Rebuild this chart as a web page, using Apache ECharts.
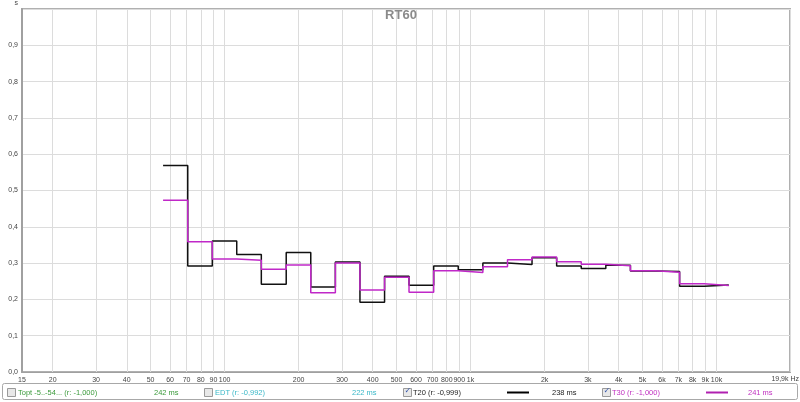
<!DOCTYPE html>
<html>
<head>
<meta charset="utf-8">
<script src="https://cdn.jsdelivr.net/npm/echarts@6/dist/echarts.min.js"></script>
<style>
html,body{margin:0;padding:0;background:#fff;}
#chart{width:800px;height:402px;}
</style>
</head>
<body>
<div id="chart"></div>
<script>
// 1/3-octave band edges (Hz): lower edges of each band + upper edge of the last band
var bandEdges = [56.2, 70.8, 89.1, 112, 141, 178, 224, 282, 355, 447, 562, 708, 891, 1122, 1413, 1778, 2239, 2818, 3548, 4467, 5623, 7079, 8913, 11220];
// RT60 per band (s)
var t20Values = [0.569, 0.292, 0.361, 0.324, 0.242, 0.329, 0.234, 0.303, 0.192, 0.264, 0.239, 0.292, 0.282, 0.300, 0.296, 0.315, 0.292, 0.285, 0.294, 0.278, 0.277, 0.236, 0.240];
var t30Values = [0.473, 0.359, 0.311, 0.308, 0.283, 0.295, 0.218, 0.300, 0.226, 0.261, 0.220, 0.279, 0.274, 0.290, 0.309, 0.317, 0.304, 0.297, 0.293, 0.279, 0.275, 0.243, 0.238];
// x-axis tick values (Hz)
var xTicks = [15, 20, 30, 40, 50, 60, 70, 80, 90, 100, 200, 300, 400, 500, 600, 700, 800, 900, 1000, 2000, 3000, 4000, 5000, 6000, 7000, 8000, 9000, 10000, 19900];
var xTickLabels = xTicks.slice(0, xTicks.length - 1);
var legendItems = [
  {label: 'Topt -5..-54... (r: -1,000)', value: '242 ms', color: '#3a9a3a', checked: false},
  {label: 'EDT (r: -0,992)', value: '222 ms', color: '#3ab8c8', checked: false},
  {label: 'T20 (r: -0,999)', value: '238 ms', color: '#222222', checked: true, line: '#000000'},
  {label: 'T30 (r: -1,000)', value: '241 ms', color: '#c030c0', checked: true, line: '#b020b0'}
];

function stepData(vals) {
  var d = [];
  for (var i = 0; i < vals.length; i++) d.push([bandEdges[i], vals[i]]);
  d.push([bandEdges[vals.length], vals[vals.length - 1]]);
  return d;
}
function fmtHz(v) {
  if (v >= 1000) return (v / 1000) + 'k';
  return String(v);
}

var chart = echarts.init(document.getElementById('chart'), null, {renderer: 'canvas'});
var FONT = 'Liberation Sans';

// legend graphics
var g = [];
g.push({type: 'rect', z: 100, shape: {x: 2.5, y: 383.5, width: 795, height: 16, r: 2}, style: {fill: '#fff', stroke: '#a8a8a8', lineWidth: 1}, silent: true});
var pos = [
  {cb: 7, lab: 18, val: 154, line: null},
  {cb: 204, lab: 215, val: 352, line: null},
  {cb: 403, lab: 413, val: 552, line: [507, 529]},
  {cb: 602, lab: 612, val: 748, line: [706, 728]}
];
legendItems.forEach(function (it, i) {
  var p = pos[i];
  g.push({type: 'rect', z: 101, shape: {x: p.cb + 0.5, y: 388.5, width: 8, height: 8}, style: {fill: '#e8e8e8', stroke: '#9a9a9a', lineWidth: 1}, silent: true});
  if (it.checked) {
    g.push({type: 'text', z: 102, x: p.cb + 1.5, y: 387, style: {text: '\u2713', fill: '#3355aa', font: 'bold 8px "DejaVu Sans"'}, silent: true});
  }
  g.push({type: 'text', z: 101, x: p.lab, y: 392.5, style: {text: it.label, fill: it.color, font: '7.5px "' + FONT + '"', verticalAlign: 'middle'}, silent: true});
  g.push({type: 'text', z: 101, x: p.val, y: 392.5, style: {text: it.value, fill: it.color, font: '7.5px "' + FONT + '"', verticalAlign: 'middle'}, silent: true});
  if (p.line) {
    g.push({type: 'line', z: 101, shape: {x1: p.line[0], y1: 392.5, x2: p.line[1], y2: 392.5}, style: {stroke: it.line, lineWidth: 2}, silent: true});
  }
});
g.push({type: 'text', z: 100, x: 799, y: 376, style: {text: '19,9k Hz', fill: '#444', font: '7px "' + FONT + '"', align: 'right', verticalAlign: 'top'}, silent: true});
g.push({type: 'text', z: 100, x: 401, y: 15, style: {text: 'RT60', fill: '#8a8a8a', font: 'bold 13px "' + FONT + '"', align: 'center', verticalAlign: 'middle'}, silent: true});

chart.setOption({
  animation: false,
  backgroundColor: '#fff',
  grid: {left: 22, right: 10, top: 7, bottom: 30, show: true, borderColor: '#b0b0b0', borderWidth: 2, backgroundColor: '#fff'},
  xAxis: {
    type: 'log',
    min: 15,
    max: 19900,
    logBase: 10,
    axisLine: {show: true, lineStyle: {color: '#a0a0a0', width: 1}},
    axisTick: {show: false, customValues: xTicks},
    axisLabel: {customValues: xTickLabels, formatter: fmtHz, color: '#444', fontSize: 7, fontFamily: FONT, margin: 5, showMinLabel: true, showMaxLabel: true, hideOverlap: false},
    splitLine: {show: true, lineStyle: {color: '#dcdcdc', width: 1}}
  },
  yAxis: {
    type: 'value',
    min: 0,
    max: 1,
    interval: 0.1,
    name: 's',
    nameLocation: 'end',
    nameGap: 2,
    nameTextStyle: {color: '#444', fontSize: 7, fontFamily: FONT, align: 'right', padding: [0, 4, 0, 0]},
    axisLine: {show: true, lineStyle: {color: '#a0a0a0', width: 2}},
    axisTick: {show: false},
    axisLabel: {color: '#444', fontSize: 7, fontFamily: FONT, margin: 4, formatter: function (v) { return v >= 0.999 ? '' : v.toFixed(1).replace('.', ','); }},
    splitLine: {show: true, lineStyle: {color: '#dcdcdc', width: 1}}
  },
  series: [
    {name: 'T20', type: 'line', step: 'end', data: stepData(t20Values), symbol: 'none', lineStyle: {color: '#111', width: 1.5}, z: 3},
    {name: 'T30', type: 'line', step: 'end', data: stepData(t30Values), symbol: 'none', lineStyle: {color: '#c028c8', width: 1.5}, z: 4}
  ],
  graphic: g
});
</script>
</body>
</html>
